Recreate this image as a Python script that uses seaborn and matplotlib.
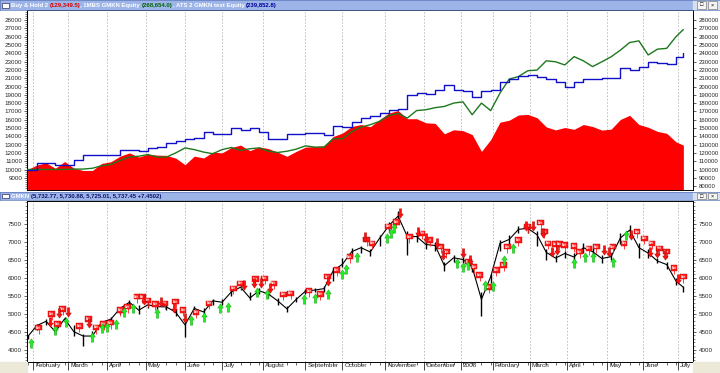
import numpy as np
import pandas as pd
import matplotlib
matplotlib.use("Agg")
import matplotlib.pyplot as plt
import matplotlib.transforms as mtransforms
from matplotlib.patches import Rectangle
from matplotlib.ticker import FixedLocator, MultipleLocator, FuncFormatter
import seaborn as sns

# --- trading calendar (MICEX sessions, holidays removed) ---
holidays = ["2007-02-23", "2007-03-08", "2007-05-01", "2007-05-09", "2007-06-12",
            "2007-11-05", "2007-12-31", "2008-01-01", "2008-01-02", "2008-01-03",
            "2008-01-04", "2008-01-07", "2008-01-08", "2008-02-25", "2008-03-10",
            "2008-05-01", "2008-05-02", "2008-05-09", "2008-06-12", "2008-06-13"]
sessions = pd.bdate_range("2007-01-29", "2008-07-04", freq="C", holidays=holidays)
n_sessions = len(sessions)
step = 5
sample_idx = np.append(np.arange(0, n_sessions - 1, step), n_sessions - 1)

# --- GMKN close / low / high, read every 5 sessions ---
price_close = [4360, 4670, 4790, 4500, 4860, 4500, 4380, 4380, 4760, 4850,
               5150, 5320, 5100, 5250, 5200, 5190, 5040, 4690, 5150, 5050,
               5360, 5320, 5610, 5740, 5440, 5640, 5550, 5360, 5140, 5400,
               5630, 5660, 5700, 6200, 6380, 6730, 6840, 6720, 7100, 7450,
               7720, 7150, 7150, 6930, 6900, 6340, 6560, 6510, 6300, 5400,
               6030, 6960, 7070, 7350, 7380, 7200, 6710, 6550, 6680, 6580,
               6840, 6730, 6540, 6590, 7110, 7330, 6840, 6690, 6470, 6370,
               5910, 5737]
price_low = [4300, 4560, 4700, 4450, 4760, 4380, 4100, 4330, 4600, 4780,
             5000, 5250, 5000, 5150, 5050, 5100, 4950, 4350, 5000, 4980,
             5250, 5250, 5500, 5650, 5380, 5550, 5450, 5250, 5050, 5320,
             5550, 5600, 5620, 5900, 6300, 6600, 6700, 6600, 6900, 7300,
             7550, 6650, 7000, 6800, 6750, 6200, 6450, 6400, 6150, 4950,
             5850, 6750, 6950, 7250, 7250, 6900, 6500, 6450, 6550, 6500,
             6700, 6620, 6420, 6500, 6950, 7100, 6550, 6550, 6400, 6250,
             5800, 5620]
price_high = [4420, 4720, 4850, 4640, 4900, 4700, 4450, 4520, 4800, 4900,
              5200, 5380, 5250, 5320, 5260, 5260, 5120, 4800, 5230, 5150,
              5420, 5400, 5680, 5800, 5600, 5720, 5640, 5450, 5220, 5480,
              5700, 5730, 5760, 6300, 6560, 6820, 6900, 6800, 7200, 7550,
              7850, 7300, 7250, 7050, 7000, 6450, 6650, 6600, 6400, 5600,
              6100, 7050, 7200, 7450, 7480, 7300, 6800, 6650, 6750, 6700,
              6960, 6820, 6650, 6700, 7250, 7480, 6960, 6800, 6560, 6450,
              6000, 5780]

# --- equity curves (thousands) ---
buy_hold = [100, 105.3, 108, 101.5, 109.6, 101.5, 98.8, 98.8, 107.3, 109.4,
            116.1, 120, 115, 118.4, 117.3, 117, 113.7, 105.8, 116.1, 113.9,
            120.9, 120, 126.5, 129.4, 122.7, 127.2, 125.2, 120.9, 115.9, 121.8,
            127, 127.6, 128.5, 139.8, 143.9, 151.8, 154.2, 151.5, 160.1, 168,
            171, 161.2, 161.2, 156.3, 155.6, 143, 147.9, 146.8, 142.1, 121.8,
            136, 157, 159.4, 165.7, 166.4, 162.4, 151.3, 147.7, 150.6, 148.4,
            154.2, 151.8, 147.5, 148.6, 160.3, 165.3, 154.2, 150.9, 145.9, 143.6,
            133.3, 129.35]
mbs_equity = [100, 100, 100, 100, 100, 100.5, 100.5, 101.5, 104.5, 106,
              111, 115, 116, 118, 115, 115, 120, 126, 124, 121,
              119, 124, 126.5, 123, 125, 126, 122, 120.5, 122, 124.5,
              128.5, 127, 127, 137, 137, 145.5, 151, 154, 158, 165,
              167.5, 162, 171, 172, 174.5, 176, 180, 181.6, 166, 180,
              171, 192, 209, 212, 219, 219.8, 231, 229.8, 226, 236,
              231, 224, 229.8, 235.8, 243.8, 253, 255, 238, 245, 246,
              260, 268.65]
ats_equity = [100, 108, 107.5, 105, 105, 112, 117, 118, 117, 117.5,
              123, 123, 122, 126.5, 127, 131.5, 134.5, 137, 138, 145,
              143, 143, 150, 148, 150, 145.5, 137, 137, 143, 143,
              143.5, 144, 141, 153, 151, 157, 162, 164, 168, 171.6,
              172.5, 189.6, 192.4, 191, 196, 202, 196, 195, 187.6, 195,
              196, 205, 208.5, 212.5, 213.7, 212, 208.5, 205.5, 199, 205,
              209, 209, 209.7, 209.7, 221.8, 219.5, 224, 229.8, 228.5, 227,
              236, 239.85]

# --- signals: session index and price level ---
buy_idx = [2, 15, 21, 35, 40, 43, 48, 52, 57, 70, 88, 95, 104, 108, 124, 129, 149,
           155, 162, 170, 172, 178, 194, 196, 198, 232, 235, 238, 247, 251, 257,
           262, 295, 301, 305, 316, 323]
buy_level = [4180, 4550, 4780, 4360, 4600, 4640, 4720, 5040, 5150, 5010, 4830, 4900,
             5150, 5200, 5620, 5540, 5420, 5430, 5540, 6100, 6240, 6590, 7100, 7240,
             7380, 6400, 6310, 6360, 5800, 5770, 6500, 6820, 6400, 6570, 6590, 6450,
             7190]
sell_idx = [12, 17, 22, 33, 63, 72, 79, 85, 117, 122, 126, 131, 162, 182, 201, 211,
            215, 221, 224, 235, 239, 269, 273, 278, 283, 286, 311, 314, 326, 336,
            340, 344, 351]
sell_level = [4780, 5010, 5060, 4730, 5380, 5340, 5150, 4870, 5800, 5850, 5850, 5710,
              5900, 7150, 7800, 7290, 7100, 6960, 6640, 6680, 6500, 7430, 7430, 7240,
              6730, 6780, 6780, 6730, 7190, 6730, 6680, 6640, 5960]
exit_idx = [6, 13, 16, 19, 28, 33, 37, 41, 45, 50, 54, 59, 62, 65, 69, 74, 80, 84,
            91, 98, 111, 115, 123, 128, 133, 138, 142, 152, 158, 162, 167, 174, 183,
            186, 195, 199, 206, 213, 217, 223, 226, 238, 241, 244, 249, 253, 257,
            259, 265, 270, 277, 279, 281, 285, 287, 290, 295, 298, 303, 307, 316,
            322, 329, 333, 337, 341, 345, 349, 354]
exit_level = [4610, 4995, 4710, 5130, 4660, 4855, 4620, 4710, 4750, 5110, 5200, 5480,
              5480, 5370, 5270, 5290, 5340, 5110, 5040, 5290, 5710, 5850, 5970, 5990,
              5850, 5540, 5570, 5640, 5550, 6030, 6220, 6590, 7070, 6960, 7430, 7560,
              7150, 7240, 7050, 6870, 6730, 6450, 6310, 6080, 5740, 6220, 6360, 6870,
              7050, 7430, 7540, 7290, 6960, 6940, 6940, 6920, 6890, 6730, 6820, 6870,
              6870, 6960, 7290, 7100, 6960, 6820, 6730, 6270, 6030]

month_names = ["February", "March", "April", "May", "June", "July", "August",
               "September", "October", "November", "December", "2008", "February",
               "March", "April", "May", "June", "July"]

# month ticks = first session of each month
sess = pd.Series(np.arange(n_sessions), index=sessions)
month_pos = sess.groupby([sessions.year, sessions.month]).first().values[1:]

sns.set_style("white")
plt.rcParams['font.family'] = ['Liberation Sans', 'DejaVu Sans']

W, H = 720.0, 373.0
fig = plt.figure(figsize=(7.2, 3.73), dpi=100)


def box(x0, y0, x1, y1):
    return [x0 / W, 1 - y1 / H, (x1 - x0) / W, (y1 - y0) / H]


ax_top = fig.add_axes(box(27, 10, 693, 190))
ax_bot = fig.add_axes(box(27, 201, 693, 362))
bar_top = fig.add_axes(box(0, 0, 720, 10))
bar_bot = fig.add_axes(box(0, 192, 720, 200))

xlim = (-0.3, 359.2)
grid_kw = dict(color='#B8B8B8', lw=0.6, ls=(0, (2, 2)))

# ---------- top panel: equity ----------
eq = pd.DataFrame({'x': sample_idx,
                   'bh': np.array(buy_hold) * 1000,
                   'mbs': np.array(mbs_equity) * 1000,
                   'ats': np.array(ats_equity) * 1000})
top_ylim = (75300, 292200)
ax_top.fill_between(eq['x'], eq['bh'], top_ylim[0], color='#FF0000', lw=0, zorder=2)
sns.lineplot(data=eq, x='x', y='mbs', ax=ax_top, color='#1E781E', lw=1.0, zorder=3)
sns.lineplot(data=eq, x='x', y='ats', ax=ax_top, color='#1010C8', lw=1.0,
             drawstyle='steps-post', zorder=4)
ax_top.set_xlim(*xlim)
ax_top.set_ylim(*top_ylim)
ax_top.xaxis.set_major_locator(FixedLocator(month_pos))
ax_top.tick_params(axis='x', length=0, labelbottom=False)
ax_top.grid(axis='x', **grid_kw)
ax_top.set_xlabel('')
ax_top.set_ylabel('')
ax_top.yaxis.tick_right()
ax_top.yaxis.set_major_locator(FixedLocator(np.arange(80000, 280001, 10000)))
ax_top.yaxis.set_major_formatter(FuncFormatter(lambda v, p: f"{int(round(v))}"))
ax_top.tick_params(axis='y', labelsize=4.3, length=2.5, width=0.5, pad=1.5)
left_ax = ax_top.secondary_yaxis('left', functions=(lambda v: v / 10, lambda v: v * 10))
left_ax.yaxis.set_major_locator(FixedLocator(np.arange(9000, 28001, 1000)))
left_ax.yaxis.set_minor_locator(MultipleLocator(250))
left_ax.yaxis.set_major_formatter(FuncFormatter(lambda v, p: f"{int(round(v))}"))
left_ax.tick_params(axis='y', labelsize=4.5, length=2.5, width=0.5, pad=1)
left_ax.tick_params(axis='y', which='minor', length=1.2, width=0.4)

# ---------- bottom panel: GMKN price ----------
px = pd.DataFrame({'x': sample_idx, 'close': price_close,
                   'low': price_low, 'high': price_high})
ax_bot.vlines(px['x'], px['low'], px['high'], color='black', lw=1.0, zorder=3)
sns.lineplot(data=px, x='x', y='close', ax=ax_bot, color='black', lw=0.8, zorder=3)

up_arrow = [(0, 1), (-0.6, 0.1), (-0.25, 0.1), (-0.25, -1), (0.25, -1), (0.25, 0.1), (0.6, 0.1), (0, 1)]
down_arrow = [(x, -y) for x, y in up_arrow]

ax_bot.vlines(exit_idx, np.array(exit_level) - 170, exit_level, color='#FF2020', lw=0.6, zorder=4)
for i, lvl in zip(exit_idx, exit_level):
    ax_bot.text(i, lvl, "Exit", ha='center', va='center', fontsize=2.0, color='white',
                fontweight='bold', zorder=5,
                bbox=dict(boxstyle='square,pad=0.25', fc='#FF1818', ec='#C00000', lw=0.3))
ax_bot.scatter(buy_idx, buy_level, marker=up_arrow, s=45, color='#22EE22',
               edgecolor='#119911', linewidth=0.3, zorder=6)
ax_bot.scatter(sell_idx, sell_level, marker=down_arrow, s=45, color='#FF1010',
               edgecolor='#AA0000', linewidth=0.3, zorder=6)

ax_bot.set_xlim(*xlim)
ax_bot.set_ylim(3657, 8140)
ax_bot.set_xlabel('')
ax_bot.set_ylabel('')
ax_bot.yaxis.set_major_locator(FixedLocator(np.arange(4000, 7501, 500)))
ax_bot.yaxis.set_minor_locator(MultipleLocator(100))
ax_bot.tick_params(axis='y', which='both', left=True, right=True, labelleft=True,
                   labelright=True, labelsize=4.5, length=2.5, width=0.5, pad=1.5)
ax_bot.tick_params(axis='y', which='minor', length=1.2, width=0.4)
ax_bot.xaxis.set_major_locator(FixedLocator(month_pos))
ax_bot.xaxis.set_minor_locator(MultipleLocator(5))
ax_bot.set_xticklabels(month_names)
ax_bot.tick_params(axis='x', which='major', bottom=True, length=6, width=0.6,
                   pad=-5, labelsize=4.6)
ax_bot.tick_params(axis='x', which='minor', bottom=True, length=2, width=0.5)
shift = mtransforms.ScaledTranslation(1.5 / 72, 0, fig.dpi_scale_trans)
for lbl in ax_bot.get_xticklabels():
    lbl.set_horizontalalignment('left')
    lbl.set_transform(lbl.get_transform() + shift)
ax_bot.grid(axis='x', **grid_kw)

for ax in (ax_top, ax_bot):
    for sp in ax.spines.values():
        sp.set_color('black')
        sp.set_linewidth(0.7)

# ---------- title bars ----------
def make_bar(bar, parts, height):
    bar.set_xlim(0, 720)
    bar.set_ylim(height, 0)
    bar.set_facecolor('#9CB4E8')
    bar.set_xticks([])
    bar.set_yticks([])
    for sp in bar.spines.values():
        sp.set_color('#5C78B8')
        sp.set_linewidth(0.5)
    bar.add_patch(Rectangle((693, 0), 27, height, color='#D8E0F0', zorder=1))
    bar.add_patch(Rectangle((2, height * 0.25), 7, height * 0.5, fc='white',
                            ec='#303060', lw=0.5, zorder=2))
    for x0, glyph in ((697, "\u25a1"), (708, "\u00d7")):
        bar.add_patch(Rectangle((x0, height * 0.12), 9, height * 0.76, fc='#F4F4F4',
                                ec='#606060', lw=0.4, zorder=2))
        bar.text(x0 + 4.5, height / 2, glyph, ha='center', va='center', fontsize=4,
                 color='black', zorder=3)
    prev = None
    for s, c in parts:
        if prev is None:
            prev = bar.text(11, height / 2 + 0.3, s, color=c, fontsize=4.3,
                            fontweight='bold', ha='left', va='center', zorder=3)
        else:
            prev = bar.annotate(s, xy=(1, 0), xycoords=prev, color=c, fontsize=4.3,
                                fontweight='bold', ha='left', va='bottom', zorder=3)


make_bar(bar_top, [("Buy & Hold 2 ", "white"), ("(129,349.5)", "#E00000"),
                   (", 1MBS GMKN Equity ", "white"), ("(268,654.0)", "#006400"),
                   (", ATS 2 GMKN test Equity ", "white"), ("(239,852.8)", "#00009A")], 10)
make_bar(bar_bot, [("GMKN ", "white"),
                   ("(5,732.77, 5,730.88, 5,725.01, 5,737.45 +7.4502)", "#10106A")], 8)

# beige window corners under the price panel
for x0, x1 in ((0, 27), (693, 720)):
    fig.patches.append(Rectangle((x0 / W, 0), (x1 - x0) / W, 11 / H,
                                 transform=fig.transFigure, color='#ECE9D8', zorder=0))

fig.savefig("out.png", dpi=100)
